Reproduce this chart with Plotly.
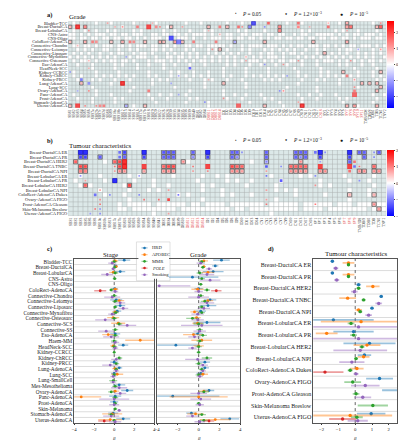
import plotly.graph_objects as go

W, H = 406, 440
FONT = "Liberation Serif"
TINT = "#dce8e8"
BWR = [[0, "#0000ff"], [0.5, "#ffffff"], [1, "#ff0000"]]

# ---------------- panel a data ----------------
rows_a = ["Bladder-TCC", "Breast-DuctalCA", "Breast-LobularCA", "CNS-Astro", "CNS-Oligo",
          "ColoRect-AdenoCA", "Connective-Chondro", "Connective-Leiomyo", "Connective-Liposarc",
          "Connective-Myxofibro", "Connective-Osteosarc", "Eso-AdenoCA", "HeadNeck-SCC",
          "Kidney-CCRCC", "Kidney-ChRCC", "Kidney-PRCC", "Lung-AdenoCA", "Lung-SCC",
          "Ovary-AdenoCA", "Panc-AdenoCA", "Prost-AdenoCA", "Stomach-AdenoCA", "Uterus-AdenoCA"]
sbs_a = ["SBS1", "SBS2", "SBS3", "SBS4", "SBS5", "SBS6", "SBS7a", "SBS7b", "SBS7c", "SBS7d",
         "SBS8", "SBS9", "SBS10a", "SBS10b", "SBS12", "SBS13", "SBS14", "SBS15", "SBS16",
         "SBS17a", "SBS17b", "SBS18", "SBS19", "SBS20", "SBS22", "SBS26", "SBS28", "SBS30",
         "SBS33", "SBS34", "SBS35", "SBS38", "SBS39", "SBS40"]
dbs_a = ["DBS1", "DBS2", "DBS4"]
dbs_red_a = ["DBS11", "DBS12", "DBS13", "DBS14"]
id_a = ["ID1", "ID2", "ID3", "ID4", "ID5", "ID6", "ID8", "ID9", "ID10", "ID11", "ID13", "ID14"]
cn_a = ["CN1", "CN2", "CN3", "CN4", "CN5", "CN6", "CN7", "CN8", "CN9", "CN10", "CN11", "CN12",
        "CN13", "CN17"]
cn_red_a = ["CN18"]
sv_a = ["SV1", "SV2", "SV3", "SV4", "SV5", "SV6"]
sv_red_a = ["SV7", "SV8", "SV9", "SV10", "SV11"]
other_a = ["TMB/IDS", "TDB/S", "TDB/I", "TDB", "TCN/I", "TNV2"]
cols_a = sbs_a + dbs_a + dbs_red_a + id_a + cn_a + cn_red_a + sv_a + sv_red_a + other_a
red_a = set(dbs_red_a + cn_red_a + sv_red_a)

tint_a = [
    "#.### ##.## #.### ##.## ###.# ##### #.### .#### ##.## #.### ##### ###.# ##.## ####. ##.## ##### #.###",
    "##### ##### ####. ##### ##### #.### ##### ##### ##.## ##### ##### ##### #.### ##### ##### ##### #####",
    "#.##. ##.## .#.## ##.#. ##### .##.# ##.## #.#.# ##### .#.## ##.## #.### ##.#. ##### #.#.# ##.## ##.##",
    "..#.# .#... #..#. .#... ##..# ..#.. #.#.. ..#.# .#..# #..#. ..#.. #..## .#..# #.... .#.#. #..#. ..#.#",
    "..#.. #..#. .#..# ..#.# .#... #..#. ..#.# #.#.. .#..# ..#.. #.#.# ..#.. #..#. .#..# ..#.. #.#.. .#..#",
    "##### ##### ##### ##### ##### ##### ##### ##### ##### ##### ##### ##### ##### ##### ##### ##### #####",
    "#..#. .#.#. ..#.. #.#.. .#..# ..#.# #..#. .#... ..#.# #.#.. ..#.. .#.#. #..#. ..#.. #.#.# ..#.. .#.#.",
    "##.#. #.##. .##.# #.#.# ##..# .#.## #.#.# ##.#. .#.## #.#.# ##.#. #.#.# .##.# #.#.# ##.#. .#.## #.#.#",
    "#.#.# .##.# #.#.. ##.#. .#.## #.#.# .#.#. ##.#. #.#.# .##.# #.#.. ##.#. .#.## #.#.# .#.#. ##.#. #.#.#",
    ".#.#. #.#.# .#.## #.#.. .##.# #..#. .#.#. #.#.# .#.#. ##.#. #.#.. .#.## #.#.# .#.#. #.#.# .#.#. #.##.",
    "#.#.. .#.#. #..#. .#.## #.#.. .#.#. #.#.# ..#.# .#.#. #.#.. .#.#. #..#. .#.## #.#.. .#.#. #.#.# ..#.#",
    "##.## #.### ##.#. ###.# #.### .##.# ##.## #.### ##.#. ###.# #.### .##.# ##.## #.### ##.#. ###.# #.###",
    "##### #.### ##.## ###.# ##### .#### ##.## ##### #.### ##.## ###.# ##### .#### ##.## ##### #.### ##.##",
    "#.### ##.## ###.# ##### #.### ##.#. ###.# ##.## #.### ##.## ###.# ##### #.### ##.#. ###.# ##.## #.###",
    "#.#.# ##.#. #.#.# .#.## #.#.# ##.#. #.#.# .#.## #.#.# ##.#. #.#.# .#.## #.#.# ##.#. #.#.# .#.## #.#.#",
    "##.## #.#.# ##.## #.### ##.#. #.### ##.## #.#.# ##.## #.### ##.#. #.### ##.## #.#.# ##.## #.### ##.#.",
    "##### ##### #.### ##### ##.## ##### ##### #.### ##### ##.## ##### ##### #.### ##### ##.## ##### #####",
    "##### #.### ##### ##.## ##### ###.# ##### #.### ##### ##.## ##### ###.# ##### #.### ##### ##.## #####",
    "##### ##.## ##### #.### ##### ##### ##.## ##### #.### ##### ##### ##.## ##### #.### ##### ##### ##.##",
    "#.### ##.## #.### ##### #.##. ##.## #.### ##### #.##. ##.## #.### ##### #.##. ##.## #.### ##### #.##.",
    "##.## #.### ##.#. ##### ##.## #.### ##.#. ##### ##.## #.### ##.#. ##### ##.## #.### ##.#. ##### ##.##",
    "##### #.### ##.## ##### ###.# ##### #.### ##.## ##### ###.# ##### #.### ##.## ##### ###.# ##### #.###",
    "##### ##### ##### ##.## ##### ##### ##### ##.## ##### ##### ##### ##.## ##### ##### ##### ##.## #####",
]

# (row, column, beta, p-level 1..3, boxed)
marks_a = [
    (0, 10, 1.2, 1, 0), (0, 22, 1.0, 1, 0), (0, 49, -2.2, 3, 1), (0, 53, 2.2, 2, 0),
    (0, 61, 2.0, 2, 0), (0, 69, 1.0, 1, 0), (0, 74, 1.2, 1, 1), (0, 83, 1.5, 1, 0),
    (1, 0, 1.0, 1, 1), (1, 2, 2.5, 3, 1), (1, 4, 1.5, 2, 1), (1, 12, 1.0, 1, 0),
    (1, 14, 1.5, 1, 0), (1, 18, 1.8, 2, 0), (1, 21, 2.6, 3, 0), (1, 23, 1.6, 2, 0),
    (1, 24, 1.6, 1, 0), (1, 27, 1.0, 1, 1), (1, 30, 1.2, 1, 0), (1, 37, 1.0, 1, 1),
    (1, 40, 1.8, 2, 0), (1, 42, 1.0, 1, 1), (1, 45, 2.0, 2, 0), (1, 46, 1.5, 1, 0),
    (1, 48, -1.5, 2, 1), (1, 52, -1.5, 1, 0), (1, 56, 1.5, 2, 1), (1, 61, 1.8, 2, 0),
    (1, 64, 1.0, 1, 0), (1, 69, 2.0, 2, 0), (1, 74, 1.2, 2, 1), (1, 75, 1.8, 2, 1),
    (1, 82, 1.0, 1, 1), (1, 83, 2.0, 2, 1),
    (2, 5, 1.5, 1, 0), (2, 37, 1.0, 1, 0), (2, 56, 1.5, 2, 1), (2, 74, 1.2, 1, 0),
    (3, 40, 1.0, 1, 0),
    (4, 27, -2.6, 3, 0),
    (5, 0, 1.0, 1, 1), (5, 4, 1.2, 1, 1), (5, 6, 1.8, 2, 0), (5, 7, 1.5, 2, 0),
    (5, 11, 0.8, 1, 1), (5, 14, 1.2, 1, 1), (5, 16, 1.8, 2, 0), (5, 17, 1.6, 2, 0),
    (5, 20, 1.0, 1, 1), (5, 24, 1.2, 1, 1), (5, 25, 1.0, 1, 1), (5, 28, 1.5, 1, 1),
    (5, 29, -1.8, 3, 0), (5, 30, 1.0, 1, 1), (5, 33, 1.8, 2, 0), (5, 39, 1.8, 2, 0),
    (5, 44, -1.2, 1, 1), (5, 52, 1.0, 1, 1), (5, 65, 1.0, 1, 1), (5, 74, 1.2, 1, 1),
    (6, 2, 1.0, 1, 0),
    (7, 38, 1.5, 1, 0), (7, 40, 1.0, 1, 1), (7, 77, -1.2, 1, 0), (7, 83, 1.5, 1, 0),
    (8, 68, 1.0, 1, 1),
    (9, 15, -1.2, 1, 0), (9, 47, 1.0, 1, 0),
    (10, 5, 1.0, 1, 0), (10, 47, 1.2, 1, 0), (10, 61, 1.5, 1, 0), (10, 75, 1.5, 1, 0),
    (11, 52, -1.5, 1, 0), (11, 57, 1.5, 1, 0),
    (12, 5, 1.0, 1, 0), (12, 32, -2.2, 2, 0),
    (13, 0, -1.5, 1, 0), (13, 73, 1.0, 1, 1), (13, 83, 1.0, 1, 1),
    (14, 29, -1.2, 1, 0), (14, 58, -1.2, 1, 0), (14, 74, 1.8, 2, 0),
    (15, 3, -1.8, 2, 0), (15, 37, 1.0, 1, 0), (15, 76, 1.5, 1, 0),
    (16, 3, 1.0, 1, 1), (16, 5, -1.5, 2, 0), (16, 14, 2.5, 3, 1), (16, 27, -1.2, 1, 0),
    (16, 41, 1.0, 1, 1), (16, 78, 1.0, 1, 1), (16, 80, 1.0, 1, 1), (16, 82, 1.0, 1, 1),
    (17, 76, 1.5, 1, 0), (17, 83, 1.0, 1, 1),
    (18, 2, -1.0, 1, 0), (18, 5, 1.5, 1, 0), (18, 21, 1.8, 2, 0), (18, 56, -1.5, 1, 0),
    (18, 57, 1.5, 1, 0), (18, 76, 1.8, 2, 0), (18, 82, 1.0, 1, 1),
    (19, 29, -1.2, 1, 0), (19, 76, 2.2, 3, 0),
    (20, 41, 1.5, 1, 0),
    (21, 36, -1.5, 1, 0), (21, 61, 1.2, 1, 0),
    (22, 0, 1.0, 1, 1), (22, 2, 2.6, 3, 0), (22, 4, 1.5, 1, 0), (22, 7, 1.6, 1, 0),
    (22, 8, 1.6, 2, 0), (22, 9, 1.8, 2, 0), (22, 15, -1.2, 1, 1), (22, 20, 1.0, 1, 1),
    (22, 45, 2.2, 3, 0), (22, 52, 1.0, 1, 1), (22, 62, 2.5, 3, 1), (22, 74, 1.2, 1, 1),
    (22, 76, 1.5, 1, 1), (22, 82, 1.2, 1, 1),
]

# ---------------- panel b data ----------------
rows_b = ["Breast-DuctalCA ER", "Breast-DuctalCA PR", "Breast-DuctalCA HER2",
          "Breast-DuctalCA TNBC", "Breast-DuctalCA NPI", "Breast-LobularCA ER",
          "Breast-LobularCA PR", "Breast-LobularCA HER2", "Breast-LobularCA NPI",
          "ColoRect-AdenoCA Dukes", "Ovary-AdenoCA FIGO", "Prost-AdenoCA Gleason",
          "Skin-Melanoma Breslow", "Uterus-AdenoCA FIGO"]
sbs_b = ["SBS1", "SBS2", "SBS3", "SBS5", "SBS6", "SBS8", "SBS10a", "SBS10b", "SBS13",
         "SBS17a", "SBS17b", "SBS18", "SBS26", "SBS28", "SBS30", "SBS34", "SBS39", "SBS40", "SBS41"]
dbs_b = ["DBS2", "DBS4", "DBS6", "DBS9", "DBS10"]
dbs_red_b = ["DBS11", "DBS12", "DBS13", "DBS14"]
id_b = ["ID1", "ID2", "ID4", "ID5", "ID6", "ID8", "ID9", "ID10", "ID11", "ID13", "ID14"]
cn_b = ["CN1", "CN2", "CN3", "CN6", "CN7", "CN9", "CN10", "CN11", "CN13", "CN17", "CN18"]
sv_b = ["SV1", "SV2", "SV3", "SV4", "SV5", "SV6"]
sv_red_b = ["SV7", "SV8", "SV9"]
other_b = ["TMB/IDS", "TDB/S", "TDB/I", "TDB", "TCN/I", "TNV2"]
cols_b = sbs_b + dbs_b + dbs_red_b + id_b + cn_b + sv_b + sv_red_b + other_b
red_b = set(dbs_red_b + sv_red_b)

tint_b = [
    "##### ##### ##### ##### ##### ##### ##### ##### ##### ##### ##### ##### #####",
    "##### ##### ##### ##### ##### ##### ##### ##### ##### ##### ##### ##### #####",
    "##### ##.## ##### ##### ####. ##### ##### ##.## ##### ##### ##### ##### #####",
    "##### ##### ##### ##### ##### ##### ##### ##### ##### ##### ##### ##### #####",
    "##### ##### ##### ##### ##### ##### ##### ##### ##### ##### ##### ##### #####",
    "##.## #.### ##.#. ##### #.### ##.## .#.## ##### #.### ##.#. ##### #.### ##.##",
    "#.### ##.## ###.# ##.## ##### #.### ##.#. ##.## ###.# ##### #.### ##.## #.###",
    "##.#. ##### #.### ##.## .#### ##.#. ##### #.### ##.## ##### #.#.# ##### ##.##",
    "##### #.### ##.## #.#.# ##### ##.## #.### ##### ##.#. #.### ##### ##.## #.###",
    "##### ##.## #.### ##### ##.#. ##### #.#.# ##.## ##### #.### ##.## ##### #.###",
    "##### ##### ##.## ##### ##### ##.## ##### ##### ##.## ##### ##### ##.## #####",
    "##### ##### .#... ..#.. ....# ..#.. ..#.. ..... #.... ..#.. ....# ...#. ..#..",
    "##### ##### ..#.. ..... ..#.. ..... ...#. .#... ..... ..#.. ..#.. ..... .#...",
    "##### ##### ##### ##.## ##### ##### ##### ##### #.### ##### ##### ##### #####",
]

marks_b = [
    (0, 2, -2.0, 3, 1), (0, 3, -2.0, 3, 1), (0, 10, -1.5, 2, 0), (0, 11, -1.8, 2, 1),
    (0, 15, -2.0, 3, 1), (0, 19, -1.6, 2, 1), (0, 20, -1.6, 2, 1), (0, 21, -1.6, 2, 1),
    (0, 25, -1.5, 2, 1), (0, 28, -2.0, 3, 1), (0, 33, -1.5, 2, 1), (0, 34, -1.5, 2, 1),
    (0, 35, -1.2, 1, 0), (0, 40, -1.5, 2, 1), (0, 46, -1.5, 2, 1), (0, 47, -1.5, 2, 1),
    (0, 48, -1.5, 2, 1), (0, 50, -1.5, 2, 0), (0, 51, -2.0, 3, 1), (0, 52, -1.2, 1, 0),
    (0, 57, -2.0, 3, 1), (0, 59, -1.5, 2, 1), (0, 60, -1.5, 2, 1), (0, 62, -1.2, 1, 0),
    (0, 63, -1.5, 2, 1),
    (1, 2, -1.8, 2, 1), (1, 3, -1.8, 2, 1), (1, 6, -1.5, 2, 1), (1, 10, -1.5, 2, 0),
    (1, 11, -1.5, 2, 1), (1, 15, -1.8, 2, 1), (1, 19, -1.5, 2, 1), (1, 20, -1.5, 2, 1),
    (1, 21, -1.5, 2, 1), (1, 25, -1.2, 1, 1), (1, 28, -1.8, 2, 1), (1, 33, -1.5, 2, 1),
    (1, 34, -1.2, 1, 1), (1, 40, -1.5, 2, 1), (1, 46, -1.5, 2, 1), (1, 47, -1.2, 1, 1),
    (1, 48, -1.5, 2, 1), (1, 51, -1.8, 2, 1), (1, 57, -1.8, 2, 1), (1, 60, -1.5, 2, 1),
    (1, 62, -1.2, 1, 0),
    (2, 1, 1.5, 2, 1), (2, 9, 1.5, 2, 1), (2, 10, 1.8, 2, 1), (2, 11, 2.0, 3, 1),
    (2, 23, 1.2, 1, 1), (2, 40, -1.2, 1, 1), (2, 47, 1.2, 1, 1), (2, 51, -1.0, 1, 0),
    (2, 57, -1.5, 2, 1), (2, 58, 1.5, 2, 0),
    (3, 2, 1.8, 2, 1), (3, 3, 1.8, 2, 1), (3, 9, 1.5, 1, 0), (3, 10, 1.8, 2, 1),
    (3, 11, 2.0, 3, 1), (3, 15, 2.2, 3, 0), (3, 19, 1.5, 2, 1), (3, 20, 1.8, 2, 1),
    (3, 21, 1.8, 2, 1), (3, 25, 1.5, 1, 0), (3, 28, 2.2, 3, 0), (3, 33, 1.8, 2, 1),
    (3, 34, 1.5, 2, 1), (3, 35, 1.5, 2, 1), (3, 40, -1.8, 2, 0), (3, 43, -1.2, 1, 0),
    (3, 45, 1.5, 2, 1), (3, 46, 1.5, 2, 1), (3, 47, 1.5, 2, 1), (3, 48, 1.5, 2, 1),
    (3, 51, 2.2, 3, 0), (3, 57, 2.2, 3, 0), (3, 58, -1.5, 2, 0), (3, 59, 1.5, 1, 0),
    (3, 62, 1.5, 2, 1),
    (4, 2, 1.2, 2, 1), (4, 3, 1.2, 2, 1), (4, 9, 1.0, 1, 0), (4, 10, 1.2, 1, 1),
    (4, 11, 1.2, 1, 1), (4, 15, 1.0, 1, 1), (4, 19, 1.2, 1, 1), (4, 20, 1.2, 1, 1),
    (4, 21, 1.2, 1, 1), (4, 25, 1.0, 1, 0), (4, 28, 1.2, 1, 0), (4, 33, 1.2, 1, 1),
    (4, 34, 1.2, 1, 1), (4, 35, 1.0, 1, 1), (4, 40, 1.0, 1, 0), (4, 45, 1.2, 1, 1),
    (4, 46, 1.2, 1, 1), (4, 47, 1.2, 1, 1), (4, 48, 1.2, 1, 1), (4, 51, 1.2, 1, 1),
    (4, 52, 1.2, 1, 1), (4, 57, 1.5, 2, 0), (4, 59, 1.2, 1, 1), (4, 60, 1.2, 1, 1),
    (4, 62, 1.2, 1, 1), (4, 63, 1.2, 1, 1),
    (5, 2, -1.2, 1, 0), (5, 14, -1.0, 1, 0), (5, 40, -1.5, 1, 0), (5, 50, -1.2, 1, 0),
    (6, 3, 1.0, 1, 0), (6, 9, -2.0, 3, 1), (6, 43, -1.8, 2, 0), (6, 59, -1.2, 1, 0),
    (7, 3, 1.5, 2, 1), (7, 12, 1.8, 2, 1), (7, 50, 1.2, 1, 0),
    (8, 6, 1.0, 1, 0), (8, 20, 1.0, 1, 0), (8, 40, 1.0, 1, 0),
    (9, 5, -1.5, 2, 0), (9, 8, -1.2, 1, 0), (9, 14, -1.2, 1, 0), (9, 22, -1.5, 1, 0),
    (9, 57, 0.8, 1, 1), (9, 62, 0.8, 1, 1),
    (10, 6, 1.2, 1, 0), (10, 15, 1.5, 1, 0), (10, 18, 1.5, 1, 0), (10, 20, 2.0, 2, 0),
    (10, 40, 1.0, 1, 0),
    (11, 6, 1.5, 1, 0), (11, 40, 1.5, 1, 0), (11, 50, 1.5, 1, 0), (11, 62, 1.2, 1, 1),
    (12, 5, 1.5, 1, 0), (12, 6, -1.2, 1, 0), (12, 63, 1.2, 1, 1),
    (13, 4, -1.0, 1, 0), (13, 6, -1.2, 1, 0), (13, 20, 1.0, 1, 0),
]

# ---------------- panel c data ----------------
rows_c = ["Bladder-TCC", "Breast-DuctalCA", "Breast-LobularCA", "CNS-Astro", "CNS-Oligo",
          "ColoRect-AdenoCA", "Connective-Chondro", "Connective-Leiomyo", "Connective-Liposarc",
          "Connective-Myxofibro", "Connective-Osteosarc", "Connective-SCS", "Connective-SS",
          "Eso-AdenoCA", "Haem-MM", "HeadNeck-SCC", "Kidney-CCRCC", "Kidney-ChRCC",
          "Kidney-PRCC", "Lung-AdenoCA", "Lung-SCC", "Lung-SmallCell", "Mes-Mesothelioma",
          "Ovary-AdenoCA", "Panc-AdenoCA", "Prost-AdenoCA", "Skin-Melanoma",
          "Stomach-AdenoCA", "Uterus-AdenoCA"]
N = None
stage_hrd = [1.0, 0.15, 0.6, N, N, 0.05, N, 0.2, 0.6, 0.3, N, N, N, 0.1, N, 0.9, N, N, 0.0, 0.5, 0.0, N, 0.5, 1.3, 0.1, 0.0, N, -0.1, 0.9]
stage_hrd_e = [0.6, 0.2, 0.5, 0, 0, 0.3, 0, 0.6, 0.5, 0.4, 0, 0, 0, 0.5, 0, 0.5, 0, 0, 0.4, 0.3, 0.3, 0, 0.6, 0.6, 0.6, 0.4, 0, 0.5, 0.7]
stage_apo = [0.1, 0.2, -0.1, N, N, 0.1, N, 0.5, N, 0.1, -0.1, 0.4, N, -0.6, 2.6, -0.1, N, N, N, 0.1, 0.3, N, N, 0.1, -3.3, N, N, -0.2, -0.4]
stage_apo_e = [0.3, 0.15, 0.4, 0, 0, 0.3, 0, 0.5, 0, 0.3, 0.6, 0.7, 0, 0.6, 1.5, 0.3, 0, 0, 0, 0.3, 0.6, 0, 0, 0.4, 2.0, 0, 0, 1.0, 1.2]
stage_mmr = [0.0, 0.05, 0.1, 0.05, N, -0.3, 0.0, 0.1, 0.1, 0.15, 0.0, 0.5, 0.1, 0.1, 0.0, 0.0, 0.0, 0.5, 0.2, 0.2, 0.0, -0.1, 0.1, -0.3, 0.1, 0.1, 0.1, -0.3, 0.0]
stage_mmr_e = [0.3, 0.2, 0.3, 0.2, 0, 0.2, 0.3, 0.3, 0.2, 0.3, 0.3, 0.3, 0.3, 0.3, 0.3, 0.3, 0.1, 0.3, 0.3, 0.2, 0.2, 0.4, 0.3, 0.3, 0.3, 0.2, 0.2, 0.3, 0.2]
stage_pole = [N, N, N, N, N, -1.4, N, N, N, N, N, N, N, N, N, N, N, N, N, N, N, N, N, N, N, N, N, N, -1.0]
stage_pole_e = [0, 0, 0, 0, 0, 0.6, 0, 0, 0, 0, 0, 0, 0, 0, 0, 0, 0, 0, 0, 0, 0, 0, 0, 0, 0, 0, 0, 0, 0.6]
stage_smk = [-0.2, -0.1, -0.7, N, N, 0.1, -0.2, 0.6, 0.9, -0.2, -0.9, 1.3, -0.8, -0.3, 0.1, 0.1, N, 0.2, -0.4, 0.2, -0.1, -0.1, 0.5, 0.6, 0.0, 0.0, 0.5, -0.3, 0.1]
stage_smk_e = [0.4, 0.2, 0.6, 0, 0, 0.3, 0.8, 0.5, 0.5, 0.4, 1.0, 0.9, 0.8, 0.8, 0.4, 0.3, 0, 0.5, 0.8, 0.3, 0.3, 0.3, 0.8, 0.6, 1.5, 0.5, 0.2, 0.8, 0.6]

grade_hrd = [2.2, 1.6, 1.4, -0.6, N, 0.0, N, 1.1, 0.9, 0.2, N, 0.8, N, -0.1, N, -2.2, N, N, 0.6, 0.6, 0.2, N, N, 1.0, -2.5, N, N, -0.7, 3.0]
grade_hrd_e = [0.8, 0.3, 1.0, 2.5, 0, 0.4, 0, 0.6, 0.8, 0.5, 0, 1.3, 0, 0.5, 0, 2.2, 0, 0, 0.5, 0.4, 0.4, 0, 0, 0.5, 4.5, 0, 0, 0.5, 0.9]
grade_apo = [0.5, 0.5, 0.9, N, N, -0.1, N, 0.9, N, -0.4, -0.2, -0.1, N, -0.5, 0.3, 0.0, N, N, N, N, 0.4, N, N, 0.5, 0.0, N, N, -0.3, 1.6]
grade_apo_e = [0.4, 0.2, 0.6, 0, 0, 0.6, 0, 0.5, 0, 0.4, 0.4, 0.5, 0, 1.0, 1.0, 0.5, 0, 0, 0, 0, 0.5, 0, 0, 0.5, 2.8, 0, 0, 0.8, 1.5]
grade_mmr = [0.3, 0.4, 0.1, 0.3, 0.2, 0.8, 0.2, 0.6, 0.3, 0.3, -0.6, 0.0, 0.1, 0.4, 0.1, 0.0, 0.0, 0.8, 0.0, 0.3, 0.0, N, N, 0.5, N, 0.0, N, 0.3, 0.5]
grade_mmr_e = [0.3, 0.2, 0.3, 0.3, 0.2, 0.3, 0.3, 0.4, 0.3, 0.3, 0.6, 0.5, 0.3, 0.4, 0.3, 0.3, 0.2, 0.5, 0.3, 0.3, 0.3, 0, 0, 0.5, 0, 0.2, 0, 0.4, 0.4]
grade_pole = [N, N, N, N, N, 1.7, N, N, N, N, N, N, N, N, N, N, N, N, N, N, N, N, N, N, N, N, N, N, 1.0]
grade_pole_e = [0, 0, 0, 0, 0, 0.5, 0, 0, 0, 0, 0, 0, 0, 0, 0, 0, 0, 0, 0, 0, 0, 0, 0, 0, 0, 0, 0, 0, 0.5]
grade_smk = [0.2, 1.0, 0.8, 1.1, -3.8, 0.0, 0.0, 0.8, 0.5, -0.1, -0.1, 0.3, 0.1, -0.4, N, -0.6, N, -0.1, 0.4, 0.4, 0.1, N, N, 0.0, 0.2, 0.1, N, -0.6, 0.1]
grade_smk_e = [0.4, 0.3, 0.7, 1.0, 3.0, 0.4, 1.0, 0.7, 0.6, 0.6, 0.6, 2.0, 0.6, 0.6, 0, 0.4, 0, 1.2, 0.5, 0.3, 0.3, 0, 0, 0.8, 1.0, 0.4, 0, 0.6, 0.5]

# ---------------- panel d data ----------------
tumour_hrd = [-1.36, -1.36, 0.2, 1.55, 1.0, -1.3, -0.1, 0.85, 0.55, N, 1.45, 2.6, N, 0.95]
tumour_hrd_e = [0.1, 0.1, 0.15, 0.1, 0.1, 2.4, 1.2, 1.55, 0.4, 0, 0.8, 1.0, 0, 0.85]
tumour_apo = [-0.4, -0.4, 1.05, -0.45, 0.2, 0.35, -1.7, 0.7, 0.5, 0.1, N, N, N, -0.3]
tumour_apo_e = [0.35, 0.35, 0.4, 0.5, 0.2, 2.4, 0.65, 0.8, 0.35, 0.4, 0, 0, 0, 2.5]
tumour_mmr = [-0.4, -0.4, 0.2, 0.5, 0.3, -0.25, -0.1, 0.4, 0.05, -0.3, -0.15, 0.05, 1.05, 0.1]
tumour_mmr_e = [0.08, 0.08, 0.12, 0.12, 0.12, 0.2, 0.2, 0.15, 0.12, 0.15, 0.5, 0.2, 0.9, 0.35]
tumour_pole = [N, N, N, N, N, N, N, N, N, -1.8, N, N, N, -0.75]
tumour_pole_e = [0, 0, 0, 0, 0, 0, 0, 0, 0, 1.1, 0, 0, 0, 0.8]
tumour_smk = [-1.16, -1.1, -0.05, 1.4, 0.8, 0.2, 0.2, 0.3, -0.2, 0.05, 0.6, 0.45, N, 0.15]
tumour_smk_e = [0.15, 0.15, 0.2, 0.2, 0.2, 3.0, 3.0, 1.6, 0.75, 0.15, 0.85, 0.5, 0, 0.6]

series = ["HRD", "APOBEC", "MMR", "<i>POLE</i>", "Smoking"]
colors = ["#1f77b4", "#ff7f0e", "#2ca02c", "#d62728", "#9467bd"]

# ---------------- helpers ----------------
def dx(a, b):
    return [a / W, b / W]

def dy(top, bottom):
    return [1 - bottom / H, 1 - top / H]

def rgba(h, a):
    h = h.lstrip("#")
    return "rgba(%d,%d,%d,%.2f)" % (int(h[0:2], 16), int(h[2:4], 16), int(h[4:6], 16), a)

def tint_matrix(strings, n):
    out = []
    for s in strings:
        s = s.replace(" ", "")[:n].ljust(n, "#")
        out.append([1 if ch == "#" else 0 for ch in s])
    return out

def ticktexts(cols, red):
    return ["<span style='color:#e23b3b'>%s</span>" % c if c in red else c for c in cols]

fig = go.Figure()

SIZE = {1: 1.7, 2: 2.7, 3: 4.8}

def heat_panel(cols, rows, tint, marks, xa, ya, cax, cell):
    nc, nr = len(cols), len(rows)
    fig.add_trace(go.Heatmap(z=tint_matrix(tint, nc), x=list(range(nc)), y=list(range(nr)),
                             colorscale=[[0, "#ffffff"], [1, TINT]], zmin=0, zmax=1,
                             showscale=False, xaxis=xa, yaxis=ya, hoverinfo="skip"))
    gx, gy = [], []
    for i in range(nc + 1):
        gx += [i - 0.5, i - 0.5, None]
        gy += [-0.5, nr - 0.5, None]
    for j in range(nr + 1):
        gx += [-0.5, nc - 0.5, None]
        gy += [j - 0.5, j - 0.5, None]
    fig.add_trace(go.Scatter(x=gx, y=gy, mode="lines", line=dict(color="#aab1b1", width=0.5),
                             xaxis=xa, yaxis=ya, hoverinfo="skip", showlegend=False))
    bx = [m for m in marks if m[4]]
    fig.add_trace(go.Scatter(x=[m[1] for m in bx], y=[m[0] for m in bx], mode="markers",
                             marker=dict(symbol="square", size=cell,
                                         color=[m[2] * 0.4 for m in bx], coloraxis=cax,
                                         line=dict(color="#555555", width=0.7)),
                             xaxis=xa, yaxis=ya, showlegend=False, hoverinfo="skip"))
    fig.add_trace(go.Scatter(x=[m[1] for m in marks], y=[m[0] for m in marks], mode="markers",
                             marker=dict(symbol="square", size=[SIZE[m[3]] for m in marks],
                                         color=[m[2] for m in marks], coloraxis=cax,
                                         line=dict(width=0)),
                             xaxis=xa, yaxis=ya, showlegend=False, hoverinfo="skip"))

heat_panel(cols_a, rows_a, tint_a, marks_a, "x", "y", "coloraxis", 3.3)
heat_panel(cols_b, rows_b, tint_b, marks_b, "x2", "y2", "coloraxis2", 4.2)

def forest(vals_list, errs_list, xa, ya, step, msize, ethick):
    for k, (vals, errs) in enumerate(zip(vals_list, errs_list)):
        xs, ys, es = [], [], []
        for i, (v, e) in enumerate(zip(vals, errs)):
            if v is None:
                continue
            xs.append(v)
            ys.append(i + (k - 2) * step)
            es.append(e)
        fig.add_trace(go.Scatter(x=xs, y=ys, mode="markers",
                                 marker=dict(color=colors[k], size=msize, line=dict(width=0)),
                                 error_x=dict(type="data", array=es, visible=True,
                                              color=rgba(colors[k], 0.45),
                                              thickness=ethick, width=0),
                                 xaxis=xa, yaxis=ya, showlegend=False, hoverinfo="skip"))

forest([stage_hrd, stage_apo, stage_mmr, stage_pole, stage_smk],
       [stage_hrd_e, stage_apo_e, stage_mmr_e, stage_pole_e, stage_smk_e], "x3", "y3", 0.13, 2.8, 1.3)
forest([grade_hrd, grade_apo, grade_mmr, grade_pole, grade_smk],
       [grade_hrd_e, grade_apo_e, grade_mmr_e, grade_pole_e, grade_smk_e], "x4", "y4", 0.13, 2.8, 1.3)
forest([tumour_hrd, tumour_apo, tumour_mmr, tumour_pole, tumour_smk],
       [tumour_hrd_e, tumour_apo_e, tumour_mmr_e, tumour_pole_e, tumour_smk_e], "x5", "y5", 0.15, 3.4, 1.8)

# legend for panel c (manual, small)
for k, name in enumerate(series):
    fig.add_trace(go.Scatter(x=[0.1, 0.3], y=[k, k], mode="lines",
                             line=dict(color=rgba(colors[k], 0.45), width=1.2),
                             xaxis="x6", yaxis="y6", showlegend=False, hoverinfo="skip"))
    fig.add_trace(go.Scatter(x=[0.2], y=[k], mode="markers",
                             marker=dict(color=colors[k], size=2.6),
                             xaxis="x6", yaxis="y6", showlegend=False, hoverinfo="skip"))

tf = dict(family=FONT, size=4.8, color="#222")
mn = lambda v: ("−%g" % -v) if v < 0 else "%g" % v

def heat_x(cols, red, dom, anchor):
    return dict(domain=dom, anchor=anchor, range=[-0.5, len(cols) - 0.5],
                tickvals=list(range(len(cols))), ticktext=ticktexts(cols, red),
                tickangle=-90, tickfont=dict(family=FONT, size=3.6, color="#333"),
                ticks="", showgrid=False, zeroline=False, showline=False)

def heat_y(rows, dom, anchor, fs):
    return dict(domain=dom, anchor=anchor, range=[len(rows) - 0.5, -0.5],
                tickvals=list(range(len(rows))), ticktext=rows,
                tickfont=dict(family=FONT, size=fs, color="#222"), ticks="",
                showgrid=False, zeroline=False, showline=False)

def forest_x(dom, anchor, rng, tv):
    return dict(domain=dom, anchor=anchor, range=rng, tickvals=tv, ticktext=[mn(v) for v in tv],
                tickfont=tf, ticks="outside", ticklen=1.5, tickwidth=0.5, tickcolor="#333",
                showgrid=False, zeroline=False, showline=True, mirror=True,
                linecolor="#555", linewidth=0.6)

def cbar(top, bottom, tv):
    return dict(x=380.5 / W, xanchor="left", y=1 - (top + bottom) / 2 / H, yanchor="middle",
                len=(bottom - top) / H, lenmode="fraction", thickness=7, thicknessmode="pixels",
                outlinewidth=0, tickvals=tv, ticktext=[mn(v) for v in tv],
                tickfont=dict(family=FONT, size=4.8, color="#222"), ticks="outside",
                ticklen=1.5, tickwidth=0.5, xpad=0, ypad=0)

nrc = len(rows_c)
nrd = len(rows_b)
BOT = 416
layout = dict(
    width=W, height=H, autosize=False, margin=dict(l=0, r=0, t=0, b=0),
    paper_bgcolor="white", plot_bgcolor="white", showlegend=False,
    font=dict(family=FONT, size=5, color="#222"),
    xaxis=heat_x(cols_a, red_a, dx(58, 380), "y"),
    yaxis=heat_y(rows_a, dy(12.3, 99.2), "x", 4.3),
    xaxis2=heat_x(cols_b, red_b, dx(58, 380), "y2"),
    yaxis2=heat_y(rows_b, dy(141.6, 208), "x2", 4.5),
    xaxis3=forest_x(dx(64, 145), "y3", [-4, 4], [-4, -2, 0, 2, 4]),
    xaxis4=forest_x(dx(148, 232), "y4", [-4, 4], [-4, -2, 0, 2, 4]),
    xaxis5=forest_x(dx(306, 391), "y5", [-2.5, 2.5], [-2, -1, 0, 1, 2]),
    yaxis3=dict(domain=dy(251, BOT), anchor="x3", range=[nrc - 0.5, -0.5],
                tickvals=list(range(nrc)), ticktext=rows_c,
                tickfont=dict(family=FONT, size=5.3, color="#222"), ticks="",
                showgrid=False, zeroline=False, showline=True, mirror=True,
                linecolor="#555", linewidth=0.6),
    yaxis4=dict(domain=dy(251, BOT), anchor="x4", range=[nrc - 0.5, -0.5],
                showticklabels=False, ticks="", showgrid=False, zeroline=False,
                showline=True, mirror=True, linecolor="#555", linewidth=0.6),
    yaxis5=dict(domain=dy(251, BOT), anchor="x5", range=[nrd - 0.5, -0.5],
                tickvals=list(range(nrd)), ticktext=rows_b,
                tickfont=dict(family=FONT, size=6, color="#222"), ticks="",
                showgrid=False, zeroline=False, showline=True, mirror=True,
                linecolor="#555", linewidth=0.6),
    xaxis6=dict(domain=dx(129, 160), anchor="y6", range=[0, 1], visible=False),
    yaxis6=dict(domain=dy(236, 271), anchor="x6", range=[4.6, -0.6], visible=False),
    coloraxis=dict(colorscale=BWR, cmin=-2.7, cmax=2.7, colorbar=cbar(12.3, 99.2, [-2, -1, 0, 1, 2])),
    coloraxis2=dict(colorscale=BWR, cmin=-2, cmax=2, colorbar=cbar(141.6, 208, [-2, -1, 0, 1, 2])),
)
fig.update_layout(**layout)

shapes = []
for xa, ya, n in (("x3", "y3", nrc), ("x4", "y4", nrc), ("x5", "y5", nrd)):
    for i in range(n - 1):
        shapes.append(dict(type="line", xref=xa + " domain", yref=ya, x0=0, x1=1,
                           y0=i + 0.5, y1=i + 0.5, line=dict(color="#dcdcdc", width=1), layer="below"))
    shapes.append(dict(type="line", xref=xa, yref=ya + " domain", x0=0, x1=0, y0=0, y1=1,
                       line=dict(color="#222", width=0.7, dash="dot"), layer="below"))
shapes.append(dict(type="rect", xref="paper", yref="paper", x0=127 / W, x1=161 / W,
                   y0=1 - 273 / H, y1=1 - 234 / H, line=dict(color="#cccccc", width=0.6),
                   fillcolor="rgba(255,255,255,0.9)", layer="below"))
fig.update_layout(shapes=shapes)

ann = []
def text(x, y, s, size=6, xanchor="left", color="#111", angle=0):
    ann.append(dict(x=x / W, y=1 - y / H, xref="paper", yref="paper", text=s, showarrow=False,
                    xanchor=xanchor, yanchor="middle", textangle=angle, borderpad=0,
                    font=dict(family=FONT, size=size, color=color)))

text(35, 6, "<b>a)</b>", 6.5)
text(58, 8, "Grade", 6.8)
text(35, 133, "<b>b)</b>", 6.5)
text(58, 137, "Tumour characteristics", 6.8)
text(35, 241, "<b>c)</b>", 6.5)
text(101, 247, "Stage", 6.8, "center")
text(190, 247, "Grade", 6.8, "center")
text(259, 241, "<b>d)</b>", 6.5)
text(350, 246, "Tumour characteristics", 6.8, "center")
# colorbar labels
text(398, 56, "<i>β</i>", 5.2, "center", angle=-90)
text(398, 175, "<i>β</i>", 5.2, "center", angle=-90)
# axis titles (beta) under each forest panel, centred on its zero
for xa in ("x3", "x4", "x5"):
    ann.append(dict(x=0, y=1 - 431 / H, xref=xa, yref="paper", text="<i>β</i>", showarrow=False,
                    borderpad=0, font=dict(family=FONT, size=5, color="#222"), yanchor="middle"))
for yy in (5, 132):
    text(228, yy, "●", 2.5, "center")
    text(233, yy, "<i>P</i> = 0.05", 5.3)
    text(278, yy, "●", 3.6, "center")
    text(284, yy, "<i>P</i> = 1.2×10<sup>−3</sup>", 5.3)
    text(335, yy, "●", 5.2, "center")
    text(341, yy, "<i>P</i> = 10<sup>−5</sup>", 5.3)
for k, name in enumerate(series):
    ann.append(dict(x=0.42, y=k, xref="x6", yref="y6", text=name, showarrow=False, borderpad=0,
                    xanchor="left", yanchor="middle", font=dict(family=FONT, size=4.6, color="#222")))
fig.update_layout(annotations=ann)

fig.write_html("out.html")
